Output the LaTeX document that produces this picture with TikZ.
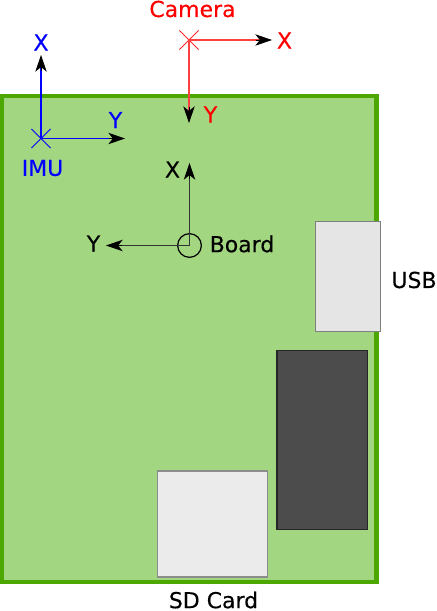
\documentclass[tikz,border=0pt]{standalone}
\usepackage{fontspec}
\setmainfont{DejaVu Sans}[RawFeature={embolden=0.25}]
\usetikzlibrary{arrows.meta,shapes.misc,calc}
\definecolor{boardgreen}{HTML}{A3D681}
\definecolor{boardedge}{HTML}{4CA800}
\tikzset{
    axisline/.style={line width=0.7pt, shorten >=5pt},
    axistip/.style={line width=0.5pt, black, -{Stealth[length=9.5pt, width=6.5pt, inset=2.6pt]}},
    origin/.style={cross out, draw, line width=0.45pt, minimum size=10.5pt, inner sep=0pt},
    lbl/.style={font=\fontsize{12.5}{15}\selectfont, inner sep=0pt},
}
\begin{document}
\begin{tikzpicture}[x=0.02cm, y=-0.02cm]
    \useasboundingbox (0, 0) rectangle (436, 611);
    % board and parts
    \draw[line width=2.3pt, draw=boardedge, fill=boardgreen] (2, 96) rectangle (376.5, 582);
    \draw[line width=0.7pt, draw=gray, fill=black!10] (315.5, 221.5) rectangle (380.5, 331.5);
    \draw[line width=0.7pt, draw=black!85, fill=black!70] (277, 350.5) rectangle (367.5, 529.5);
    \draw[line width=0.7pt, draw=black!45, fill=black!8] (157.5, 471) rectangle (267.5, 577);

    \node[lbl] (usb) at (414, 280) {USB};
    \node[lbl] (sdcard) at (213.5, 600) {SD Card};

    % origins
    \node[origin, red!85] (cam) at (189, 40) {};
    \node[origin, blue] (imu) at (41, 138.5) {};
    \node[circle, draw, line width=0.7pt, minimum size=13.5pt, inner sep=0pt] (brd) at (189.5, 245.5) {};

    \coordinate (camx) at (272, 40);
    \coordinate (camy) at (189, 123);
    \coordinate (imux) at (41, 55);
    \coordinate (imuy) at (125, 138.5);
    \coordinate (brdx) at (189.5, 163);
    \coordinate (brdy) at (106, 245.5);

    % axes
    \foreach \from/\to/\col in {cam/camx/red!75, cam/camy/red!75, imu/imux/blue, imu/imuy/blue, brd/brdx/black!80, brd/brdy/black!80} {
        \draw[axisline, \col] (\from.center) -- (\to);
        \draw[axistip] ($(\to)!9pt!(\from.center)$) -- (\to);
    }

    \node[lbl, red] (camname) at (192.5, 9) {Camera};
    \node[lbl, red] (camxl) at (284.5, 40.5) {X};
    \node[lbl, red] (camyl) at (210.5, 114.5) {Y};

    \node[lbl, blue] (imuname) at (42.5, 168) {IMU};
    \node[lbl, blue] (imuxl) at (41, 42.5) {X};
    \node[lbl, blue] (imuyl) at (115.5, 120) {Y};

    \node[lbl] (brdname) at (242, 244) {Board};
    \node[lbl] (brdxl) at (172.5, 169.5) {X};
    \node[lbl] (brdyl) at (93.5, 243.5) {Y};
\end{tikzpicture}
\end{document}
